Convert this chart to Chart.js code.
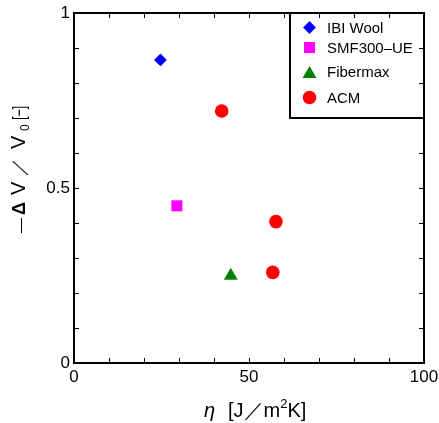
<!DOCTYPE html>
<html>
<head>
<meta charset="utf-8">
<script src="https://cdn.jsdelivr.net/npm/chart.js@4/dist/chart.umd.min.js"></script>
<style>
  html, body { margin: 0; padding: 0; background: #fff; }
  #wrap { width: 439px; height: 423px; }
</style>
</head>
<body>
<div id="wrap"><canvas id="chart1"></canvas></div>
<script>
// data
const seriesNames = ['IBI Wool', 'SMF300\u2013UE', 'Fibermax', 'ACM'];
const ibiX = [24.7], ibiY = [0.866];
const smfX = [29.4], smfY = [0.449];
const fibX = [44.8], fibY = [0.249];
const acmX = [42.2, 57.7, 56.8], acmY = [0.72, 0.404, 0.259];
const xTicks = [0, 50, 100];
const yTicks = [0, 0.5, 1];

const FONT = '"Liberation Sans", Arial, sans-serif';

function pts(xs, ys) {
    return xs.map((x, i) => ({ x: x, y: ys[i] }));
}

const styles = [
    { color: '#0000ff', pointStyle: 'rectRot', radius: 6.4 },
    { color: '#ff00ff', pointStyle: 'rect', radius: 7.8 },
    { color: '#008000', pointStyle: 'triangle', radius: 8 },
    { color: '#ff0000', pointStyle: 'circle', radius: 6.8 }
];
const seriesData = [pts(ibiX, ibiY), pts(smfX, smfY), pts(fibX, fibY), pts(acmX, acmY)];

// frame, inward ticks, axis titles and boxed legend
const decor = {
    id: 'decor',
    afterDatasetsDraw(chart) {
        const ctx = chart.ctx;
        const a = chart.chartArea;
        const xs = chart.scales.x, ys = chart.scales.y;
        ctx.save();

        // legend box
        const lx = 290, ly = a.top, lw = a.right - 290, lh = 105;
        ctx.fillStyle = '#fff';
        ctx.fillRect(lx, ly, lw, lh);

        // ticks
        ctx.strokeStyle = '#000';
        ctx.lineWidth = 1;
        ctx.beginPath();
        for (let v = 0; v <= 100; v += 10) {
            const px = Math.round(xs.getPixelForValue(v)) + 0.5;
            ctx.moveTo(px, a.bottom); ctx.lineTo(px, a.bottom - 5);
            ctx.moveTo(px, a.top); ctx.lineTo(px, a.top + 5);
        }
        for (let i = 0; i <= 10; i++) {
            const py = Math.round(ys.getPixelForValue(i / 10)) + 0.5;
            ctx.moveTo(a.left, py); ctx.lineTo(a.left + 5, py);
            ctx.moveTo(a.right, py); ctx.lineTo(a.right - 5, py);
        }
        ctx.stroke();

        ctx.lineWidth = 2;
        ctx.strokeRect(lx, ly, lw, lh);
        ctx.strokeRect(a.left, a.top, a.right - a.left, a.bottom - a.top);

        // legend entries
        const rows = [27.5, 47.5, 72, 97.5];
        ctx.font = '15px ' + FONT;
        ctx.textBaseline = 'middle';
        ctx.textAlign = 'left';
        styles.forEach((s, i) => {
            ctx.fillStyle = s.color;
            Chart.helpers.drawPoint(ctx, { pointStyle: s.pointStyle, radius: s.radius, rotation: 0, borderWidth: 0 }, 309.5, rows[i] + (s.pointStyle === 'triangle' ? 2 : 0));
            ctx.fillStyle = '#000';
            ctx.fillText(seriesNames[i], 327, rows[i] + 1);
        });

        // x title: eta [J/m2K]
        ctx.textBaseline = 'alphabetic';
        let x = 204;
        const by = 417;
        ctx.font = 'italic 20px ' + FONT;
        ctx.fillText('\u03b7', x, by);
        x = 228;
        ctx.font = '20px ' + FONT;
        ctx.fillText('[J\uff0fm', x, by);
        x += ctx.measureText('[J\uff0fm').width;
        ctx.font = '13px ' + FONT;
        ctx.fillText('2', x, by - 9);
        x += ctx.measureText('2').width;
        ctx.font = '20px ' + FONT;
        ctx.fillText('K]', x, by);

        // y title: -ΔV/V0 [-], rotated, glyphs placed along the axis
        ctx.translate(25, 233);
        ctx.rotate(-Math.PI / 2);
        const parts = [
            ['\u2014', '15px ', 0, 0],
            ['\u0394', 'bold 18px ', 18, 0],
            ['V', '20px ', 38, 0],
            ['\uff0f', '18px ', 57, 0],
            ['V', '20px ', 84, 0],
            ['0', '12px ', 102, 4]
        ];
        parts.forEach(p => {
            ctx.font = p[1] + FONT;
            ctx.fillText(p[0], p[2], p[3]);
        });
        ctx.translate(113, 0);
        ctx.scale(0.7, 1);
        ctx.font = '18px ' + FONT;
        ctx.fillText('[\u2212]', 0, 0);
        ctx.restore();
    }
};

new Chart(document.getElementById('chart1').getContext('2d'), {
    type: 'scatter',
    data: {
        datasets: seriesData.map((d, i) => ({
            label: seriesNames[i],
            data: d,
            pointStyle: styles[i].pointStyle,
            pointRadius: styles[i].radius,
            backgroundColor: styles[i].color,
            borderColor: styles[i].color,
            borderWidth: 0
        }))
    },
    options: {
        responsive: true,
        maintainAspectRatio: false,
        animation: false,
        events: [],
        layout: { padding: { top: 13, right: 15, left: 0, bottom: 0 } },
        plugins: { legend: { display: false }, tooltip: { enabled: false } },
        scales: {
            x: {
                type: 'linear',
                min: 0, max: 100,
                afterFit: s => { s.height = 60; s.paddingLeft = 0; s.paddingRight = 0; },
                afterBuildTicks: s => { s.ticks = xTicks.map(v => ({ value: v })); },
                grid: { display: false, drawTicks: false },
                border: { display: false },
                ticks: { padding: 4, color: '#000', font: { family: FONT, size: 17 }, maxRotation: 0, callback: v => String(v) }
            },
            y: {
                type: 'linear',
                min: 0, max: 1,
                afterFit: s => { s.width = 74; s.paddingTop = 0; s.paddingBottom = 0; },
                afterBuildTicks: s => { s.ticks = yTicks.map(v => ({ value: v })); },
                grid: { display: false, drawTicks: false },
                border: { display: false },
                ticks: { padding: 4, color: '#000', font: { family: FONT, size: 17 }, callback: v => String(v) }
            }
        }
    },
    plugins: [decor]
});
</script>
</body>
</html>
